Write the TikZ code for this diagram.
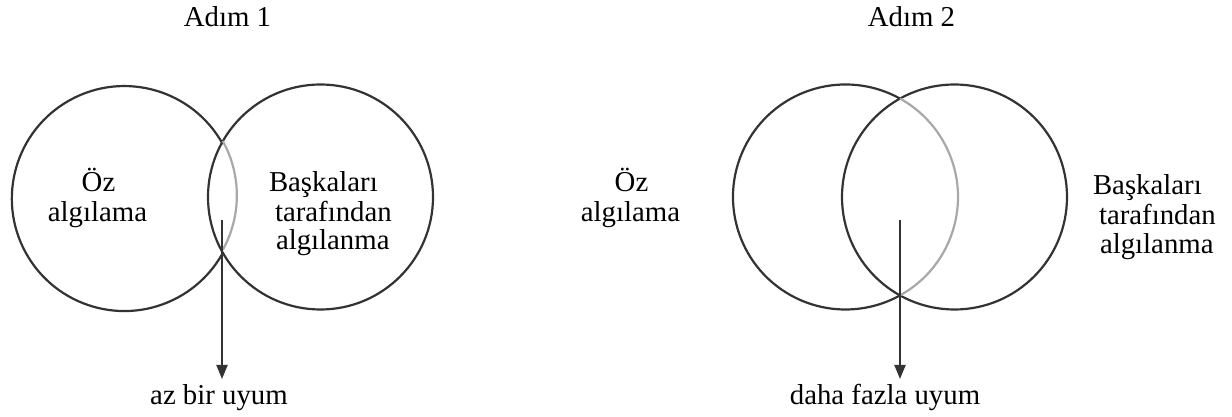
\documentclass[tikz,border=0pt]{standalone}
\usepackage{fontspec}
\setmainfont{Liberation Serif}
\usetikzlibrary{arrows.meta}
\definecolor{ink}{HTML}{333333}
\definecolor{overlapgray}{HTML}{A8A8A8}
\begin{document}
\begin{tikzpicture}[x=1pt,y=1pt,
  every node/.style={font=\fontsize{28.8}{30}\selectfont, inner sep=0pt, outer sep=0pt},
  ring/.style={circle, minimum size=225pt, line width=2.2pt, draw=ink},
  ghost/.style={circle, minimum size=225pt},
  arcline/.style={line width=2.2pt, draw=ink},
  softarc/.style={line width=2.2pt, draw=overlapgray},
  word/.style={anchor=base},
  wordl/.style={anchor=base west},
  result/.style={anchor=base, text height=20pt, outer sep=6pt},
  pointer/.style={line width=2pt, draw=ink, -{Triangle[width=11pt,length=14pt]}}]
\useasboundingbox[fill=white] (0,0) rectangle (1232,417);

% ---- Step 1: small overlap ----
\node[word] (title1) at (227.5,390) {Adım 1};
\node[ghost] (self1) at (123.5,220) {};
\node[ring] (others1) at (320.5,220) {};
\draw[arcline] (self1.28.9) arc[start angle=28.9, end angle=331.1, radius=112.5pt];
\draw[softarc] (self1.-28.9) arc[start angle=-28.9, end angle=28.9, radius=112.5pt];
\node[word] (self1a) at (98.5,225) {Öz};
\node[word] (self1b) at (97.5,195) {algılama};
\node[wordl] (others1a) at (269,225) {Başkaları};
\node[wordl] (others1b) at (275,195) {tarafından};
\node[wordl] (others1c) at (276,167) {algılanma};
\coordinate (from1) at (222,197);
\node[result] (fit1) at (219,12) {az bir uyum};
\draw[pointer] (from1) -- (from1 |- fit1.north);

% ---- Step 2: larger overlap ----
\node[word] (title2) at (911.5,390) {Adım 2};
\node[ghost] (self2) at (845.5,220) {};
\node[ring] (others2) at (954.5,220) {};
\draw[arcline] (self2.61) arc[start angle=61, end angle=299, radius=112.5pt];
\draw[softarc] (self2.-61) arc[start angle=-61, end angle=61, radius=112.5pt];
\node[word] (self2a) at (631.5,225) {Öz};
\node[word] (self2b) at (630.5,195) {algılama};
\node[wordl] (others2a) at (1093,222) {Başkaları};
\node[wordl] (others2b) at (1099,192.5) {tarafından};
\node[wordl] (others2c) at (1100,163) {algılanma};
\coordinate (from2) at (900,197);
\node[result] (fit2) at (885,12) {daha fazla uyum};
\draw[pointer] (from2) -- (from2 |- fit2.north);
\end{tikzpicture}
\end{document}
